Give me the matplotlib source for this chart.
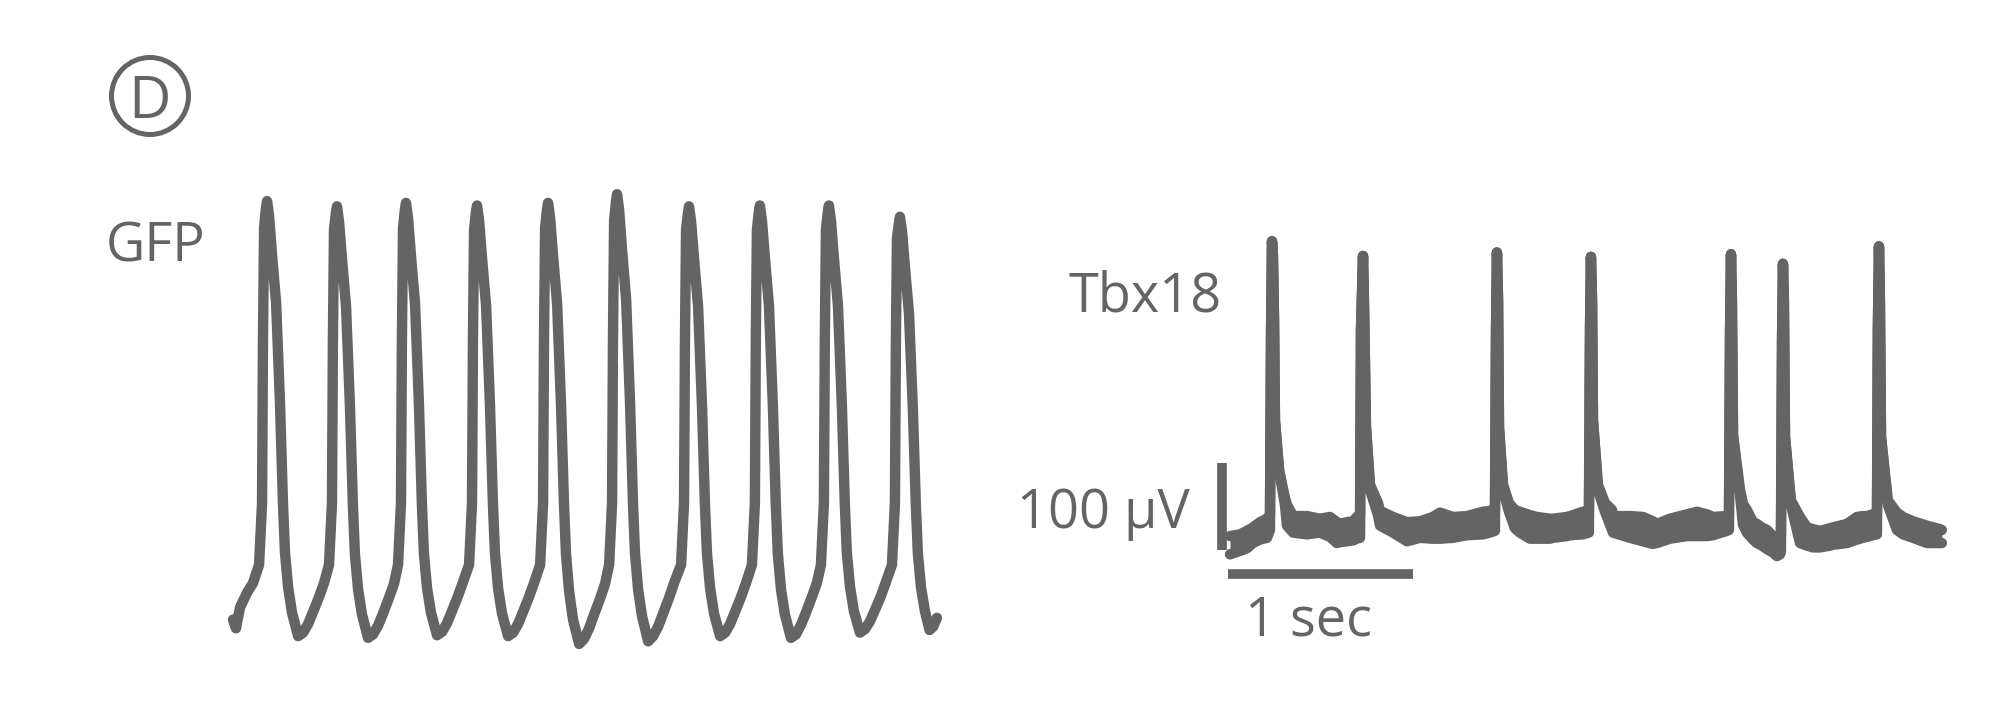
import matplotlib
matplotlib.use("Agg")
import matplotlib.pyplot as plt
from matplotlib.patches import Circle

# --- GFP trace: (time ms, voltage uV) ---
gfp_t = [0, 16, 38, 76, 108,
         141, 157, 162, 168, 178, 184, 195, 211, 233, 254, 270, 281, 298, 319, 352, 379, 406, 433, 465, 492,
         519, 535, 540, 546, 556, 562, 573, 589, 611, 632, 648, 659, 676, 697, 730, 757, 784, 811, 843, 870,
         892, 908, 913, 919, 929, 935, 946, 962, 984, 1005, 1021, 1032, 1049, 1070, 1103, 1130, 1157, 1184, 1216, 1243,
         1276, 1292, 1297, 1303, 1313, 1319, 1330, 1346, 1368, 1389, 1405, 1416, 1433, 1454, 1487, 1514, 1541, 1568, 1600, 1627,
         1660, 1676, 1681, 1687, 1697, 1703, 1714, 1730, 1752, 1773, 1789, 1800, 1817, 1838, 1871, 1898, 1925, 1952, 1984, 2011,
         2033, 2049, 2054, 2060, 2070, 2076, 2087, 2103, 2125, 2146, 2162, 2173, 2190, 2211, 2244, 2271, 2298, 2325, 2357, 2384,
         2422, 2438, 2443, 2449, 2459, 2465, 2476, 2492, 2514, 2535, 2551, 2562, 2579, 2600, 2633, 2660, 2687, 2714, 2746, 2773,
         2805, 2821, 2826, 2832, 2842, 2848, 2859, 2875, 2897, 2918, 2934, 2945, 2962, 2983, 3016, 3043, 3070, 3097, 3129, 3156,
         3178, 3194, 3199, 3205, 3215, 3221, 3232, 3248, 3270, 3291, 3307, 3318, 3335, 3356, 3389, 3416, 3443, 3470, 3502, 3529,
         3562, 3578, 3583, 3589, 3599, 3605, 3616, 3632, 3654, 3675, 3691, 3702, 3719, 3740, 3765, 3785, 3805]
gfp_v = [20, 10, 34, 51, 62,
         83, 154, 341, 470, 493, 501, 484, 439, 384, 269, 154, 97, 57, 28, 1, 5, 15, 29, 46, 62,
         83, 154, 341, 468, 487, 495, 478, 435, 380, 266, 152, 95, 55, 26, -1, 3, 13, 27, 45, 61,
         83, 154, 341, 470, 491, 499, 482, 438, 383, 268, 153, 96, 56, 28, 2, 6, 16, 30, 47, 63,
         83, 154, 341, 468, 488, 496, 479, 436, 381, 267, 153, 96, 56, 27, 1, 5, 15, 29, 46, 62,
         83, 154, 341, 470, 491, 499, 482, 438, 383, 268, 153, 95, 52, 20, -8, -2, 10, 26, 44, 61,
         83, 154, 345, 478, 500, 509, 491, 445, 388, 270, 154, 96, 54, 24, -5, 1, 12, 27, 45, 62,
         83, 154, 341, 468, 487, 495, 478, 435, 380, 266, 152, 96, 56, 27, 1, 5, 15, 29, 46, 62,
         83, 154, 341, 468, 488, 496, 479, 436, 381, 267, 153, 96, 55, 26, -1, 3, 14, 28, 46, 62,
         83, 154, 341, 468, 488, 496, 479, 436, 381, 267, 154, 97, 58, 30, 5, 9, 18, 31, 47, 63,
         83, 154, 335, 458, 475, 483, 467, 425, 372, 262, 152, 96, 57, 30, 8, 12, 22]

# --- Tbx18 trace: time ms, upper / lower envelope uV ---
tbx_t = [0, 54, 92, 124, 162, 200, 216, 222, 227, 232, 238, 243, 265, 297, 308, 341, 416, 486, 541, 578,
         595, 632, 665, 686, 703, 708, 719, 724, 735, 757, 800, 811, 881, 957, 1027, 1097, 1135, 1205, 1281, 1367,
         1405, 1432, 1438, 1443, 1449, 1454, 1476, 1508, 1540, 1567, 1622, 1659, 1730, 1746, 1821, 1838, 1908, 1940,
         1946, 1951, 1957, 1962, 1989, 2027, 2065, 2070, 2162, 2232, 2286, 2308, 2378, 2470, 2524, 2578, 2611, 2686,
         2697, 2703, 2708, 2713, 2719, 2757, 2773, 2794, 2827, 2848, 2875, 2903, 2935, 2956, 2973, 2978, 2984, 2989,
         2994, 3000, 3032, 3081, 3119, 3151, 3189, 3243, 3259, 3335, 3389, 3421, 3443, 3475, 3497, 3502, 3508, 3513,
         3519, 3556, 3605, 3638, 3692, 3767, 3838, 3848]
tbx_hi = [-7, -5, -1, 3, 9, 13, 17, 230, 332, 316, 241, 126, 69, 37, 29, 16, 16, 13, 15, 9,
          7, 9, 10, 15, 17, 230, 315, 264, 118, 52, 31, 22, 15, 9, 10, 15, 20, 15, 16, 21,
          22, 21, 230, 319, 264, 118, 52, 31, 23, 21, 17, 15, 13, 13, 15, 16, 21, 21,
          230, 314, 264, 126, 52, 31, 23, 16, 16, 15, 10, 7, 13, 18, 21, 18, 15, 16,
          18, 230, 317, 264, 109, 46, 30, 23, 9, 7, 3, 0, -7, -8, -8, -6, 218, 306,
          264, 107, 34, 15, 3, 1, -1, 2, 3, 7, 15, 16, 16, 18, 18, 230, 326, 264,
          107, 34, 20, 15, 10, 5, 1, 0]
tbx_lo = [-28, -24, -21, -15, -11, -9, 0, 230, 332, 316, 241, 126, 69, 29, 5, -3, -5, -3, -8, -15,
          -14, -13, -12, -10, -9, 230, 315, 264, 118, 46, 17, 5, -3, -13, -9, -10, -10, -9, -6, -5,
          -3, -1, 230, 319, 264, 118, 46, 21, 2, -3, -10, -10, -10, -9, -7, -6, -5, -3,
          230, 314, 264, 126, 46, 21, 0, -3, -9, -13, -16, -15, -10, -7, -7, -7, -6, -1,
          0, 230, 317, 264, 109, 40, 6, -3, -11, -15, -18, -22, -26, -30, -28, -25, 218, 306,
          264, 107, 29, -15, -18, -20, -20, -18, -17, -15, -11, -9, -8, -6, -5, 230, 326, 264,
          107, 29, 0, -5, -9, -15, -15, -15]

scale_t = 1000   # ms
scale_v = 100    # uV

GREY = '#646464'
W, H = 2000, 728
PX_PER_MS = 0.185
PX_PER_UV = 0.87
LW = 7.5

plt.rcParams['font.family'] = ['Open Sans', 'DejaVu Sans']


def trace_axes(fig, origin, box):
    # origin: pixel where t=0, V=0 ; box: left, top, width, height in pixels
    x0, y0 = origin
    left, top, width, height = box
    ax = fig.add_axes([left / W, 1 - (top + height) / H, width / W, height / H])
    ax.set_xlim((left - x0) / PX_PER_MS, (left + width - x0) / PX_PER_MS)
    ax.set_ylim((y0 - top - height) / PX_PER_UV, (y0 - top) / PX_PER_UV)
    ax.axis('off')
    return ax


def main():
    fig = plt.figure(figsize=(W / 100, H / 100), dpi=100)

    ax1 = trace_axes(fig, (233, 637), (150, 120, 850, 580))
    ax1.plot(gfp_t, gfp_v, color=GREY, lw=LW, solid_joinstyle='round', solid_capstyle='round')

    ax2 = trace_axes(fig, (1230, 530), (1180, 200, 800, 420))
    ax2.fill_between(tbx_t, tbx_lo, tbx_hi, color=GREY, lw=0)
    ax2.plot(tbx_t, tbx_hi, color=GREY, lw=LW, solid_joinstyle='round', solid_capstyle='round')
    ax2.plot(tbx_t, tbx_lo, color=GREY, lw=LW, solid_joinstyle='round', solid_capstyle='round')

    # scale bars
    ax2.plot([-43, -43], [-23, -23 + scale_v], color=GREY, lw=7, solid_capstyle='butt')
    ax2.plot([-11, -11 + scale_t], [-51, -51], color=GREY, lw=7, solid_capstyle='butt')

    fs = 39
    fig.text(1190 / W, 1 - 528 / H, '100 µV', color=GREY, fontsize=fs, ha='right', va='baseline')
    fig.text(1222 / W, 1 - 311 / H, 'Tbx18', color=GREY, fontsize=fs, ha='right', va='baseline')
    fig.text(106 / W, 1 - 261 / H, 'GFP', color=GREY, fontsize=fs, ha='left', va='baseline')
    fig.text(1245 / W, 1 - 635 / H, '1 sec', color=GREY, fontsize=fs, ha='left', va='baseline')

    # circled panel letter
    axd = fig.add_axes([100 / W, 1 - 146 / H, 100 / W, 100 / H])
    axd.set_xlim(-50, 50)
    axd.set_ylim(-50, 50)
    axd.axis('off')
    axd.add_patch(Circle((0, 0), 38.5, fill=False, ec=GREY, lw=3.6))
    axd.text(0, 0, 'D', color=GREY, fontsize=42, ha='center', va='center_baseline')

    fig.savefig('out.png', dpi=100, facecolor='white')


if __name__ == "__main__":
    main()
